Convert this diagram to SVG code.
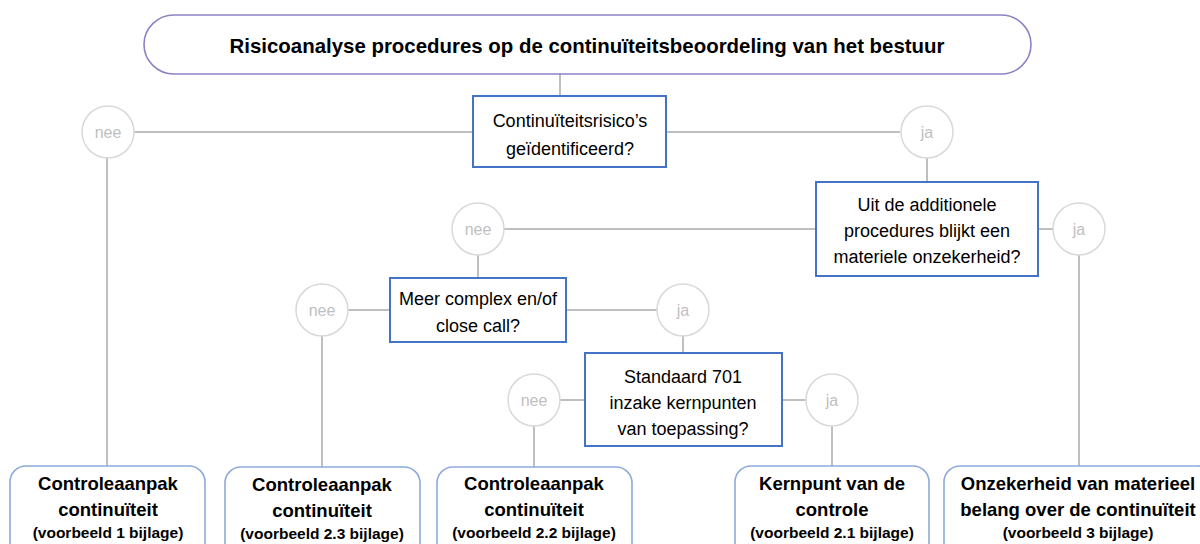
<svg xmlns="http://www.w3.org/2000/svg" width="1200" height="544" viewBox="0 0 1200 544">
<style>
  text { font-family: "Liberation Sans", Arial, sans-serif; fill: #000; text-anchor: middle; }
  .title-box { fill: #fff; stroke: #8a84c4; stroke-width: 1.6; }
  .q { fill: #fff; stroke: #4472c4; stroke-width: 2; }
  .qt { font-size: 18px; }
  .c { fill: #fff; stroke: #d9d9d9; stroke-width: 1.5; }
  .ct { font-size: 16px; fill: #bfbfbf; }
  .end { fill: #fff; stroke: #8eaadb; stroke-width: 1.6; }
  .et { font-size: 18.5px; font-weight: bold; }
  .es { font-size: 15.5px; font-weight: bold; }
  .ln { stroke: #bfbfbf; stroke-width: 2; fill: none; }
</style>
<rect width="1200" height="544" fill="#fff"/>
<g id="connectors">
  <path class="ln" d="M560 74 V96"/>
  <path class="ln" d="M134 132 H473"/>
  <path class="ln" d="M107 158 V467"/>
  <path class="ln" d="M666 132 H900"/>
  <path class="ln" d="M927 158 V182"/>
  <path class="ln" d="M504 229 H816"/>
  <path class="ln" d="M478 255 V278"/>
  <path class="ln" d="M1038 229 H1054"/>
  <path class="ln" d="M1079 255 V467"/>
  <path class="ln" d="M348 310 H390"/>
  <path class="ln" d="M322 336 V467"/>
  <path class="ln" d="M566 310 H657"/>
  <path class="ln" d="M683 336 V353"/>
  <path class="ln" d="M560 400 H585"/>
  <path class="ln" d="M534 426 V467"/>
  <path class="ln" d="M782 400 H806"/>
  <path class="ln" d="M832 426 V467"/>
</g>
<g id="title">
  <rect class="title-box" x="144" y="15" width="887" height="59" rx="30"/>
  <text x="587" y="53" font-size="20.5" font-weight="bold" textLength="715" lengthAdjust="spacingAndGlyphs">Risicoanalyse procedures op de continuïteitsbeoordeling van het bestuur</text>
</g>
<g id="q1">
  <rect class="q" x="473" y="96" width="193" height="71"/>
  <text class="qt" x="570" y="127">Continuïteitsrisico’s</text>
  <text class="qt" x="570" y="155">geïdentificeerd?</text>
</g>
<g id="nee1">
  <circle class="c" cx="108" cy="132" r="26"/>
  <text class="ct" x="108" y="138">nee</text>
</g>
<g id="ja1">
  <circle class="c" cx="927" cy="132" r="26"/>
  <text class="ct" x="927" y="138">ja</text>
</g>
<g id="q2">
  <rect class="q" x="816" y="182" width="222" height="94"/>
  <text class="qt" x="927" y="211">Uit de additionele</text>
  <text class="qt" x="927" y="237">procedures blijkt een</text>
  <text class="qt" x="927" y="263">materiele onzekerheid?</text>
</g>
<g id="nee2">
  <circle class="c" cx="478" cy="229" r="26"/>
  <text class="ct" x="478" y="235">nee</text>
</g>
<g id="ja2">
  <circle class="c" cx="1079" cy="229" r="26"/>
  <text class="ct" x="1079" y="235">ja</text>
</g>
<g id="q3">
  <rect class="q" x="390" y="278" width="176" height="64"/>
  <text class="qt" x="478" y="305">Meer complex en/of</text>
  <text class="qt" x="478" y="332">close call?</text>
</g>
<g id="nee3">
  <circle class="c" cx="322" cy="310" r="26"/>
  <text class="ct" x="322" y="316">nee</text>
</g>
<g id="ja3">
  <circle class="c" cx="683" cy="310" r="26"/>
  <text class="ct" x="683" y="316">ja</text>
</g>
<g id="q4">
  <rect class="q" x="585" y="353" width="197" height="93"/>
  <text class="qt" x="683" y="383">Standaard 701</text>
  <text class="qt" x="683" y="409">inzake kernpunten</text>
  <text class="qt" x="683" y="435">van toepassing?</text>
</g>
<g id="nee4">
  <circle class="c" cx="534" cy="400" r="26"/>
  <text class="ct" x="534" y="406">nee</text>
</g>
<g id="ja4">
  <circle class="c" cx="832" cy="400" r="26"/>
  <text class="ct" x="832" y="406">ja</text>
</g>
<g id="end1">
  <rect class="end" x="10" y="466" width="195" height="100" rx="16"/>
  <text class="et" x="108" y="490">Controleaanpak</text>
  <text class="et" x="108" y="516">continuïteit</text>
  <text class="es" x="108" y="538">(voorbeeld 1 bijlage)</text>
</g>
<g id="end2">
  <rect class="end" x="225" y="467" width="195" height="100" rx="16"/>
  <text class="et" x="322" y="491">Controleaanpak</text>
  <text class="et" x="322" y="517">continuïteit</text>
  <text class="es" x="322" y="539">(voorbeeld 2.3 bijlage)</text>
</g>
<g id="end3">
  <rect class="end" x="437" y="467" width="195" height="100" rx="16"/>
  <text class="et" x="534" y="490">Controleaanpak</text>
  <text class="et" x="534" y="516">continuïteit</text>
  <text class="es" x="534" y="538">(voorbeeld 2.2 bijlage)</text>
</g>
<g id="end4">
  <rect class="end" x="735" y="466" width="194" height="100" rx="16"/>
  <text class="et" x="832" y="490">Kernpunt van de</text>
  <text class="et" x="832" y="516">controle</text>
  <text class="es" x="832" y="538">(voorbeeld 2.1 bijlage)</text>
</g>
<g id="end5">
  <rect class="end" x="944" y="466" width="270" height="100" rx="16"/>
  <text class="et" x="1078" y="490">Onzekerheid van materieel</text>
  <text class="et" x="1078" y="516">belang over de continuïteit</text>
  <text class="es" x="1078" y="538">(voorbeeld 3 bijlage)</text>
</g>
</svg>
